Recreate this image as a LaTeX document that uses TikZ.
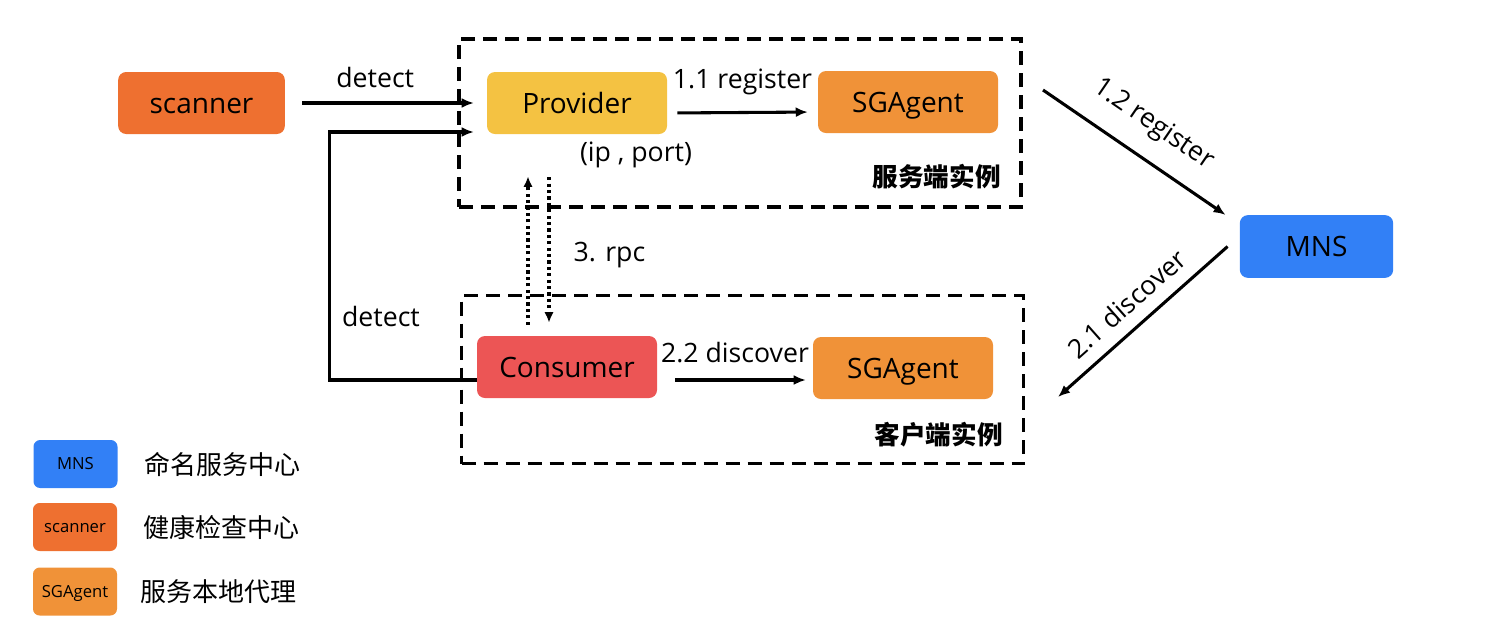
\documentclass[tikz,border=0pt]{standalone}
\usepackage{fontspec}
\setmainfont{Open Sans}
\newfontfamily\cjk{Noto Sans CJK SC}
\usetikzlibrary{arrows.meta,positioning}
\definecolor{scannercol}{RGB}{238,112,48}
\definecolor{providercol}{RGB}{244,194,66}
\definecolor{agentcol}{RGB}{240,146,56}
\definecolor{consumercol}{RGB}{236,85,85}
\definecolor{mnscol}{RGB}{50,128,246}
\tikzset{
  box/.style={rounded corners=6pt, minimum width=135pt, minimum height=46.5pt, inner sep=0pt, text height=19.5pt, text depth=4.5pt, font=\fontsize{21}{24}\selectfont},
  legbox/.style={rounded corners=5pt, minimum width=63pt, minimum height=36pt, inner sep=0pt, text height=11pt, text depth=2.5pt, font=\fontsize{12.5}{14}\selectfont},
  legtext/.style={font=\cjk\fontsize{19.5}{22}\selectfont, inner sep=0pt},
  lbl/.style={font=\fontsize{20}{23}\selectfont},
  arr/.style={line width=2.3pt, -{Latex[length=9pt,width=7.5pt]}},
  rpc/.style={line width=2.4pt, dash pattern=on 2.4pt off 2.4pt, -{Latex[length=8pt,width=7pt]}},
  group/.style={draw, line width=2.3pt, dash pattern=on 10.5pt off 6pt, minimum width=421.5pt, minimum height=126pt, inner sep=0pt},
  grouplabel/.style={font=\cjk\bfseries\fontsize{19.2}{22}\selectfont, inner sep=0pt}
}
\begin{document}
\begin{tikzpicture}[x=0.75pt,y=-0.75pt]
\useasboundingbox (0,0) rectangle (1492,633);
% instance groups
\node[group] (server) at (740,123) {};
\node[group] (client) at (742.5,379.5) {};
\node[grouplabel, anchor=east] (serverlabel) at (1001,177) {服务端实例};
\node[grouplabel, anchor=east] (clientlabel) at (1003,435) {客户端实例};
% components
\node[box, fill=scannercol, minimum width=125pt] (scanner) at (201.5,103) {scanner};
\node[box, fill=providercol] (provider) at (577,103) {Provider};
\node[box, fill=agentcol] (agentsrv) at (908,102) {SGAgent};
\node[box, fill=consumercol] (consumer) at (567,367) {Consumer};
\node[box, fill=agentcol] (agentcli) at (903,368) {SGAgent};
\node[box, fill=mnscol, minimum width=115pt, minimum height=47pt] (mns) at (1316.5,246.5) {MNS};
\node[lbl] (ipport) at (636,155) {(ip , port)};
% health check
\draw[arr, shorten <=12.75pt, shorten >=9.75pt] (scanner.east) -- (provider.west) node[lbl, midway, above=7pt, xshift=-8pt] {detect};
\draw[arr, shorten >=9.75pt] ([yshift=-9.75pt]consumer.west) -- ++(-147,0) |- ([yshift=-21.75pt]provider.west);
\node[lbl] (detectcli) at (381,316) {detect};
% register / discover
\draw[arr, shorten <=7.5pt, shorten >=7.5pt] ([yshift=-7.5pt]provider.east) -- ([yshift=-7.5pt]agentsrv.west) node[lbl, midway, above=9pt] {1.1 register};
\draw[arr, shorten <=13.5pt, shorten >=5.25pt] ([yshift=-9.75pt]consumer.east) -- ([yshift=-9pt]agentcli.west) node[lbl, midway, above=8pt] {2.2 discover};
\coordinate (srvout) at (1043,90);
\coordinate (cliin) at (1058,397);
\draw[arr] (srvout) -- ([xshift=-10.5pt]mns.north west) node[lbl, midway, sloped, above=11pt] {1.2 register};
\draw[arr] ([xshift=-9pt]mns.west) -- (cliin) node[lbl, midway, sloped, above=6pt] {2.1 discover};
% rpc
\coordinate (rpcup) at (528,0);
\coordinate (rpcdown) at (549,0);
\draw[rpc, shorten <=8.25pt, shorten >=31.5pt] (consumer.north -| rpcup) -- (provider.south -| rpcup);
\draw[rpc, shorten <=32.25pt, shorten >=9.75pt] (provider.south -| rpcdown) -- (consumer.north -| rpcdown) node[lbl, pos=0.6, right=14pt] {3. rpc};
% legend
\node[legbox, fill=mnscol] (legmns) at (75.5,464) {MNS};
\node[legbox, fill=scannercol] (legscanner) at (75,527) {scanner};
\node[legbox, fill=agentcol] (legagent) at (75,591.5) {SGAgent};
\node[legtext, right=19.5pt of legmns] (legmnstext) {命名服务中心};
\node[legtext, right=19.5pt of legscanner] (legscannertext) {健康检查中心};
\node[legtext, right=17pt of legagent] (legagenttext) {服务本地代理};
\end{tikzpicture}
\end{document}
